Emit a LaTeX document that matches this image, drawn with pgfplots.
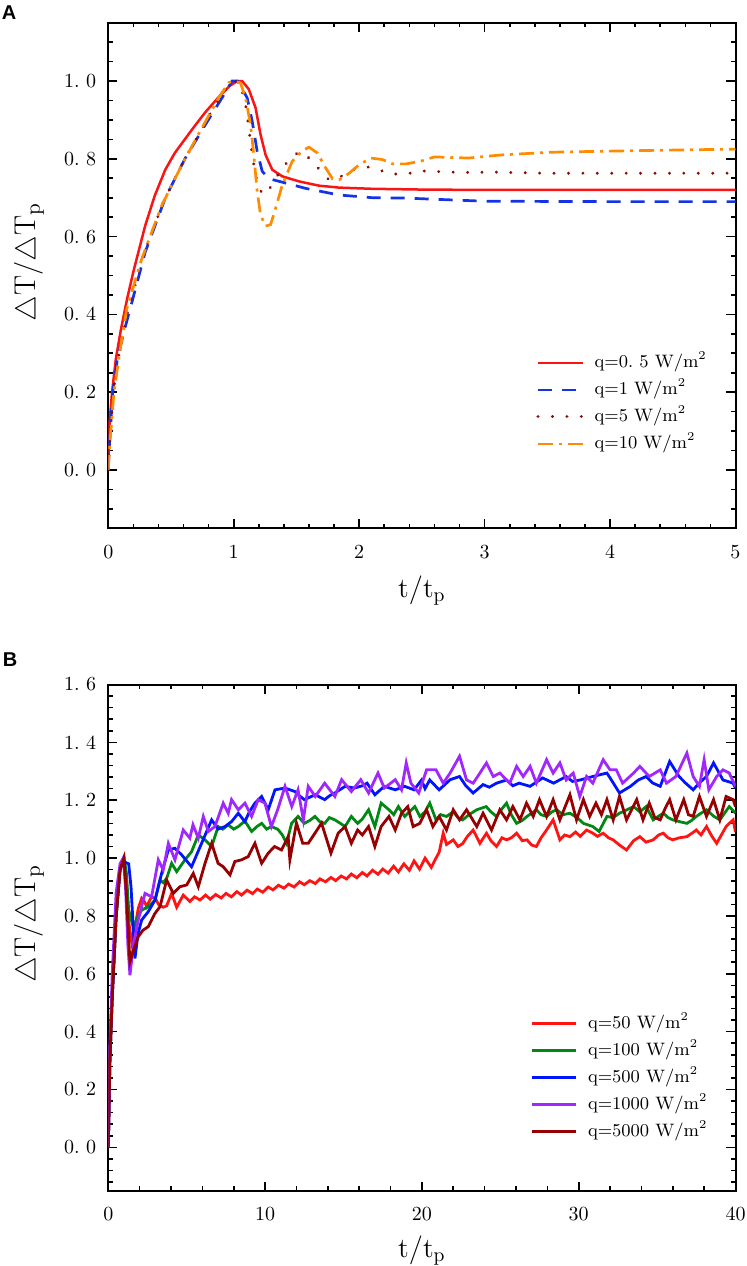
\documentclass[border=0pt]{standalone}
\usepackage{fontspec}
\usepackage{pgfplots}
\pgfplotsset{compat=1.18}
\newfontfamily\labfont{Liberation Sans}
\definecolor{aRed}{RGB}{250,20,20}
\definecolor{aBlue}{RGB}{20,50,230}
\definecolor{aDot}{RGB}{140,10,10}
\definecolor{aOra}{RGB}{255,140,0}
\definecolor{bRed}{RGB}{255,20,20}
\definecolor{bGreen}{RGB}{0,135,20}
\definecolor{bBlue}{RGB}{0,20,255}
\definecolor{bPur}{RGB}{160,40,255}
\definecolor{bDark}{RGB}{150,0,0}
\pgfplotsset{
  myax/.style={
    scale only axis,
    width=313.6pt,
    axis line style={line width=1pt},
    every tick/.style={black, line width=0.8pt},
    major tick length=4.5pt,
    minor tick length=2.3pt,
    tick align=inside,
    xtick pos=both, ytick pos=both,
    tick label style={font=\fontsize{10}{12}\selectfont},
    xticklabel style={yshift=-5pt},
    yticklabel style={xshift=-2.5pt},
    xlabel style={font=\fontsize{14}{16}\selectfont},
    ylabel style={font=\fontsize{15}{18}\selectfont},
    legend image code/.code={\draw[#1] (0pt,0pt) -- (22.5pt,0pt);},
    legend style={draw=none, fill=none, inner sep=0pt,
      font=\fontsize{9}{11}\selectfont,
      nodes={inner sep=0pt, text height=9pt, text depth=4.5pt},
      row sep=0pt, column sep=5pt},
    legend cell align=left,
  }
}
\begin{document}
\begin{tikzpicture}
\useasboundingbox (0,0) rectangle (373.5pt,-633pt);
\node[font=\labfont\bfseries\fontsize{10}{12}\selectfont] at (4.5pt,-6.5pt) {A};
\node[font=\labfont\bfseries\fontsize{10}{12}\selectfont] at (5pt,-330pt) {B};
% ---------------- Panel A ----------------
\begin{axis}[myax,
  at={(54.15pt,-264.15pt)}, anchor=south west,
  height=252.8pt,
  xmin=0, xmax=5, ymin=-0.15, ymax=1.15,
  xtick={0,1,2,3,4,5},
  minor xtick={0,0.2,...,5},
  ytick={0,0.2,0.4,0.6,0.8,1.0},
  yticklabels={0.\ 0,0.\ 2,0.\ 4,0.\ 6,0.\ 8,1.\ 0},
  minor ytick={-0.1,-0.05,0.05,0.1,0.15,0.25,0.3,0.35,0.45,0.5,0.55,0.65,0.7,0.75,0.85,0.9,0.95,1.05,1.1},
  xlabel={$\mathrm{t/t_p}$},
  ylabel={$\triangle\mathrm{T}/\triangle\mathrm{T}_{\mathrm{p}}$},
  xlabel style={at={(axis description cs:0.5,-0.1359)}, anchor=base},
  ylabel style={at={(axis description cs:-0.1264,0.5267)}, rotate=0, anchor=center},
  legend style={at={(axis description cs:0.682,0.2471)}, anchor=west},
]
\addplot[color=aRed, line width=1.25pt] coordinates {
(0,0) (0.004,0.07) (0.01,0.12) (0.03,0.2) (0.06,0.285) (0.1,0.36) (0.15,0.44) (0.2,0.51) (0.294,0.628) (0.37,0.705) (0.454,0.772) (0.53,0.815) (0.614,0.852) (0.69,0.885) (0.774,0.92) (0.85,0.948) (0.907,0.968) (0.97,0.988) (1.027,1.0) (1.067,1.0) (1.12,0.979) (1.174,0.931) (1.214,0.862) (1.254,0.81) (1.307,0.772) (1.387,0.755) (1.52,0.742) (1.68,0.731) (1.84,0.726) (2.1,0.723) (2.5,0.721) (3,0.72) (4,0.72) (5,0.72)};
\addlegendentry{q=0.\ 5 W/m$^2$}
\addplot[color=aBlue, line width=1.35pt, dash pattern=on 7pt off 5pt] coordinates {
(0,0) (0.008,0.06) (0.02,0.12) (0.035,0.2) (0.07,0.28) (0.12,0.35) (0.174,0.414) (0.294,0.56) (0.454,0.699) (0.614,0.802) (0.774,0.888) (0.907,0.957) (0.987,1.0) (1.03,1.0) (1.107,0.957) (1.147,0.897) (1.187,0.819) (1.227,0.768) (1.28,0.749) (1.387,0.74) (1.574,0.724) (1.84,0.707) (2.107,0.70) (2.374,0.699) (3,0.691) (4,0.69) (5,0.69)};
\addlegendentry{q=1 W/m$^2$}
\addplot[color=aDot, line width=1.6pt, line cap=round, dash pattern=on 0.01pt off 7.2pt] coordinates {
(0,0) (0.01,0.065) (0.022,0.12) (0.04,0.2) (0.08,0.29) (0.16,0.414) (0.28,0.552) (0.44,0.69) (0.6,0.794) (0.76,0.884) (0.827,0.925) (0.9,0.962) (0.97,0.995) (1.0,1.0) (1.05,0.995) (1.1,0.93) (1.147,0.81) (1.174,0.759) (1.2,0.724) (1.24,0.707) (1.28,0.72) (1.334,0.75) (1.387,0.776) (1.454,0.802) (1.52,0.818) (1.574,0.81) (1.627,0.794) (1.707,0.763) (1.76,0.746) (1.84,0.752) (1.947,0.772) (2.054,0.78) (2.16,0.772) (2.24,0.761) (2.374,0.761) (2.49,0.769) (2.8,0.765) (3.05,0.766) (3.5,0.763) (5,0.763)};
\addlegendentry{q=5 W/m$^2$}
\addplot[color=aOra, line width=1.35pt, dash pattern=on 7.5pt off 3pt on 1.5pt off 3pt] coordinates {
(0,0) (0.01,0.06) (0.025,0.12) (0.045,0.2) (0.09,0.3) (0.147,0.414) (0.267,0.543) (0.427,0.681) (0.587,0.785) (0.747,0.88) (0.88,0.957) (0.96,0.996) (1.0,1.0) (1.054,0.995) (1.094,0.957) (1.134,0.888) (1.16,0.81) (1.187,0.716) (1.214,0.655) (1.254,0.627) (1.294,0.631) (1.334,0.673) (1.387,0.733) (1.467,0.794) (1.547,0.821) (1.6,0.83) (1.667,0.815) (1.734,0.776) (1.787,0.749) (1.84,0.746) (1.92,0.763) (2.0,0.785) (2.094,0.802) (2.187,0.798) (2.267,0.787) (2.374,0.787) (2.49,0.794) (2.6,0.805) (2.87,0.802) (3.13,0.81) (3.53,0.817) (4.2,0.821) (5,0.825)};
\addlegendentry{q=10 W/m$^2$}
\end{axis}
% ---------------- Panel B ----------------
\begin{axis}[myax,
  at={(54.15pt,-595.35pt)}, anchor=south west,
  height=253.1pt,
  xmin=0, xmax=40, ymin=-0.15, ymax=1.6,
  xtick={0,10,20,30,40},
  minor xtick={0,2,...,40},
  ytick={0,0.2,0.4,0.6,0.8,1.0,1.2,1.4,1.6},
  yticklabels={0.\ 0,0.\ 2,0.\ 4,0.\ 6,0.\ 8,1.\ 0,1.\ 2,1.\ 4,1.\ 6},
  minor ytick={-0.12,-0.08,...,1.6},
  xlabel={$\mathrm{t/t_p}$},
  ylabel={$\triangle\mathrm{T}/\triangle\mathrm{T}_{\mathrm{p}}$},
  xlabel style={at={(axis description cs:0.5,-0.131)}, anchor=base},
  ylabel style={at={(axis description cs:-0.1264,0.527)}, rotate=0, anchor=center},
  legend style={at={(axis description cs:0.6722,0.2236)}, anchor=west, column sep=5.5pt},
  legend image code/.code={\draw[#1] (0pt,0pt) -- (22pt,0pt);},
  every axis plot/.append style={line width=1.4pt},
]
\addplot[color=bRed] coordinates {
(0,0) (0.1,0.3) (0.25,0.52) (0.5,0.8) (0.75,0.96) (1.0,1.0) (1.15,0.93) (1.3,0.78) (1.49,0.71) (1.7,0.76) (1.91,0.826) (2.13,0.861) (2.3,0.85) (2.45,0.832) (2.6,0.85) (2.76,0.866) (3.0,0.86) (3.2,0.84) (3.5,0.83) (3.72,0.835) (4.04,0.878) (4.36,0.83) (4.78,0.872) (5.2,0.85) (5.5,0.866) (5.85,0.855)
(6.2,0.872) (6.5,0.858) (6.85,0.874) (7.2,0.862) (7.5,0.878) (7.85,0.866) (8.2,0.884) (8.5,0.872) (8.85,0.889) (9.2,0.877) (9.5,0.893) (9.85,0.882) (10.2,0.9) (10.5,0.89) (10.85,0.906) (11.2,0.896) (11.5,0.91) (11.85,0.9) (12.2,0.918) (12.5,0.908) (12.85,0.922) (13.2,0.912) (13.5,0.928) (13.85,0.918) (14.2,0.933) (14.5,0.922) (14.85,0.938) (15.2,0.928) (15.5,0.945) (15.85,0.932) (16.2,0.95) (16.5,0.938) (16.85,0.958) (17.2,0.944) (17.5,0.962) (17.85,0.948) (18.2,0.972) (18.5,0.952) (18.85,0.98) (19.2,0.958) (19.5,0.99) (19.85,0.962) (20.2,1.0) (20.6,0.968) (20.9,1.0) (21.1,1.02) (21.36,1.086) (21.57,1.047)
(22.0,1.063) (22.3,1.04) (22.6,1.05) (22.9,1.075) (23.27,1.097) (23.7,1.051) (24.12,1.086) (24.4,1.06) (24.76,1.04) (25.1,1.07) (25.4,1.063) (25.7,1.07) (26.04,1.086) (26.4,1.06) (26.7,1.063) (27.0,1.045) (27.3,1.04) (27.6,1.07) (27.95,1.097) (28.37,1.132) (28.8,1.063) (29.1,1.08) (29.44,1.074) (29.8,1.09) (30.1,1.075) (30.5,1.097) (30.9,1.086) (31.2,1.075) (31.56,1.086) (31.9,1.07) (32.2,1.063) (32.6,1.045) (33.05,1.028) (33.5,1.06) (33.9,1.074) (34.3,1.055) (34.75,1.063) (35.1,1.08) (35.4,1.086) (35.7,1.07) (36.0,1.063) (36.4,1.07) (36.9,1.074) (37.2,1.085) (37.5,1.097) (37.8,1.08) (38.15,1.109) (38.5,1.075) (38.8,1.051) (39.1,1.08) (39.4,1.109) (39.6,1.12) (39.85,1.132) (40,1.09)};
\addlegendentry{q=50 W/m$^2$}
\addplot[color=bGreen] coordinates {
(0,0) (0.1,0.3) (0.25,0.52) (0.5,0.8) (0.75,0.96) (1.0,1.0) (1.15,0.95) (1.3,0.82) (1.6,0.76) (1.9,0.8) (2.13,0.82) (2.55,0.832) (2.98,0.855) (3.3,0.924) (3.5,0.915) (3.72,0.93) (4.04,0.982) (4.36,0.953) (4.89,0.994) (5.31,1.022) (5.74,1.08) (6.17,1.063) (6.59,1.04) (7.01,1.109) (7.3,1.1) (7.65,1.115) (8.0,1.1) (8.29,1.109) (8.71,1.128) (9.14,1.092) (9.5,1.11) (9.78,1.12) (10.1,1.1) (10.4,1.109) (10.8,1.1) (11.1,1.08) (11.37,1.051) (11.69,1.12) (12.1,1.144) (12.5,1.12) (12.85,1.13) (13.18,1.144) (13.5,1.125) (13.8,1.12) (14.1,1.14) (14.45,1.132) (14.8,1.12) (15.1,1.109) (15.5,1.144) (15.9,1.12) (16.2,1.135) (16.6,1.167) (17.0,1.109) (17.4,1.19) (17.9,1.167) (18.2,1.15) (18.5,1.178) (18.9,1.144) (19.2,1.16) (19.55,1.178) (19.87,1.144) (20.2,1.16) (20.5,1.19) (20.9,1.132) (21.2,1.15) (21.57,1.144) (22.0,1.16) (22.3,1.14) (22.6,1.132) (23.0,1.15) (23.5,1.167) (24.1,1.178) (24.4,1.16) (24.76,1.144) (25.1,1.17) (25.4,1.19) (25.7,1.15) (26.04,1.12) (26.4,1.13) (26.7,1.144) (27.0,1.155) (27.3,1.167) (27.6,1.15) (27.95,1.144) (28.3,1.16) (28.6,1.167) (29.0,1.15) (29.44,1.155) (29.9,1.14) (30.3,1.12) (30.9,1.109) (31.3,1.092) (31.8,1.144) (32.2,1.14) (32.6,1.155) (33.0,1.165) (33.5,1.178) (33.9,1.16) (34.3,1.178) (34.75,1.132) (35.1,1.145) (35.4,1.155) (35.7,1.14) (36.0,1.132) (36.5,1.125) (36.9,1.12) (37.2,1.13) (37.5,1.144) (37.8,1.155) (38.15,1.167) (38.6,1.145) (39.0,1.132) (39.3,1.155) (39.6,1.178) (40,1.155)};
\addlegendentry{q=100 W/m$^2$}
\addplot[color=bBlue] coordinates {
(0,0) (0.1,0.3) (0.25,0.52) (0.5,0.8) (0.75,0.96) (0.95,0.99) (1.1,0.985) (1.3,0.98) (1.45,0.9) (1.7,0.653) (1.9,0.74) (2.13,0.786) (2.55,0.815) (2.98,0.855) (3.4,0.947) (3.83,1.028) (4.25,1.034) (4.68,1.011) (5.0,0.99) (5.31,0.97) (5.95,1.051) (6.59,1.132) (7.0,1.1) (7.44,1.109) (7.86,1.126) (8.29,1.155) (8.71,1.126) (9.0,1.16) (9.35,1.19) (9.78,1.213) (10.2,1.167) (10.63,1.236) (11.27,1.242) (11.9,1.23) (12.2,1.215) (12.5,1.202) (13.2,1.219) (13.8,1.202) (14.1,1.215) (14.45,1.225) (15.1,1.248) (15.7,1.242) (16.2,1.25) (16.5,1.259) (17.0,1.219) (17.6,1.248) (18.3,1.236) (18.9,1.248) (19.5,1.236) (19.98,1.27) (20.2,1.24) (20.5,1.27) (21.1,1.236) (21.8,1.271) (22.4,1.282) (22.8,1.25) (23.27,1.225) (23.9,1.254) (24.3,1.245) (24.76,1.259) (25.4,1.27) (25.8,1.25) (26.2,1.259) (26.9,1.248) (27.7,1.277) (28.4,1.259) (29.2,1.282) (29.6,1.265) (30.1,1.27) (30.9,1.282) (31.8,1.294) (32.2,1.26) (32.6,1.225) (33.3,1.248) (33.8,1.27) (34.3,1.282) (34.7,1.26) (35.2,1.248) (35.8,1.334) (36.4,1.282) (36.8,1.26) (37.3,1.236) (37.7,1.26) (38.15,1.282) (38.6,1.329) (39.2,1.27) (39.85,1.259) (40,1.242)};
\addlegendentry{q=500 W/m$^2$}
\addplot[color=bPur] coordinates {
(0,0) (0.1,0.35) (0.25,0.6) (0.5,0.88) (0.75,0.98) (0.95,1.0) (1.1,0.9) (1.25,0.7) (1.38,0.595) (1.6,0.7) (1.91,0.786) (2.34,0.878) (2.76,0.866) (3.19,0.994) (3.5,0.959) (3.83,1.051) (4.25,0.994) (4.78,1.097) (5.2,1.069) (5.4,1.115) (5.74,1.069) (6.06,1.144) (6.38,1.092) (6.8,1.109) (7.33,1.19) (7.65,1.155) (7.86,1.202) (8.29,1.167) (8.71,1.19) (9.14,1.144) (9.56,1.202) (9.99,1.19) (10.4,1.109) (10.8,1.167) (11.27,1.248) (11.7,1.178) (12.1,1.236) (12.44,1.132) (12.75,1.248) (13.2,1.213) (13.8,1.259) (14.45,1.213) (14.88,1.271) (15.5,1.23) (16.1,1.271) (16.6,1.225) (17.2,1.294) (17.6,1.242) (18.3,1.271) (18.7,1.236) (19.0,1.329) (19.3,1.259) (19.8,1.225) (20.3,1.305) (20.9,1.305) (21.36,1.259) (21.8,1.294) (22.4,1.352) (22.85,1.27) (23.27,1.259) (23.7,1.294) (24.12,1.329) (24.55,1.282) (24.97,1.294) (25.6,1.259) (26.04,1.317) (26.46,1.282) (26.9,1.317) (27.3,1.259) (27.95,1.34) (28.37,1.294) (28.8,1.329) (29.2,1.27) (29.65,1.294) (30.07,1.213) (30.5,1.282) (30.9,1.259) (31.56,1.34) (32.0,1.305) (32.4,1.305) (32.8,1.259) (33.5,1.294) (33.9,1.317) (34.5,1.282) (35.2,1.305) (35.6,1.259) (36.2,1.282) (36.9,1.363) (37.3,1.282) (37.7,1.248) (38.0,1.34) (38.3,1.236) (38.8,1.282) (39.2,1.305) (39.6,1.294) (40,1.248)};
\addlegendentry{q=1000 W/m$^2$}
\addplot[color=bDark] coordinates {
(0,0) (0.1,0.3) (0.25,0.52) (0.5,0.8) (0.75,0.96) (1.0,1.0) (1.15,0.88) (1.38,0.641) (1.6,0.68) (1.91,0.728) (2.2,0.75) (2.55,0.763) (2.98,0.809) (3.3,0.832) (3.72,0.924) (4.15,0.878) (4.57,0.901) (5.0,0.907) (5.42,0.947) (5.74,0.901) (6.17,0.982) (6.59,1.051) (7.0,0.982) (7.33,0.97) (7.76,0.942) (8.07,0.988) (8.5,0.994) (8.92,1.005) (9.35,1.051) (9.78,0.982) (10.2,1.017) (10.6,1.04) (11.05,1.028) (11.47,1.074) (11.58,0.994) (12.0,1.121) (12.4,1.051) (12.75,1.051) (13.18,1.086) (13.6,1.121) (14.2,1.017) (14.66,1.086) (15.1,1.109) (15.5,1.051) (15.9,1.097) (16.2,1.08) (16.6,1.109) (17.0,1.04) (17.4,1.109) (17.9,1.144) (18.3,1.097) (18.7,1.155) (19.1,1.178) (19.44,1.109) (19.87,1.12) (20.3,1.167) (20.7,1.109) (21.1,1.144) (21.57,1.097) (22.0,1.167) (22.4,1.132) (22.85,1.167) (23.5,1.109) (23.9,1.155) (24.44,1.097) (24.97,1.167) (25.4,1.132) (25.8,1.178) (26.25,1.132) (26.67,1.19) (27.1,1.144) (27.5,1.202) (27.95,1.144) (28.37,1.202) (28.8,1.132) (29.44,1.219) (29.86,1.132) (30.3,1.202) (30.7,1.144) (31.1,1.19) (31.45,1.15) (31.8,1.202) (32.2,1.132) (32.6,1.213) (33.05,1.132) (33.7,1.202) (34.1,1.132) (34.5,1.19) (34.85,1.14) (35.2,1.132) (35.5,1.17) (35.8,1.202) (36.2,1.132) (36.7,1.202) (37.0,1.15) (37.3,1.144) (37.7,1.213) (38.15,1.144) (38.6,1.202) (39.0,1.132) (39.4,1.213) (39.85,1.202) (40,1.178)};
\addlegendentry{q=5000 W/m$^2$}
\end{axis}
\end{tikzpicture}
\end{document}
